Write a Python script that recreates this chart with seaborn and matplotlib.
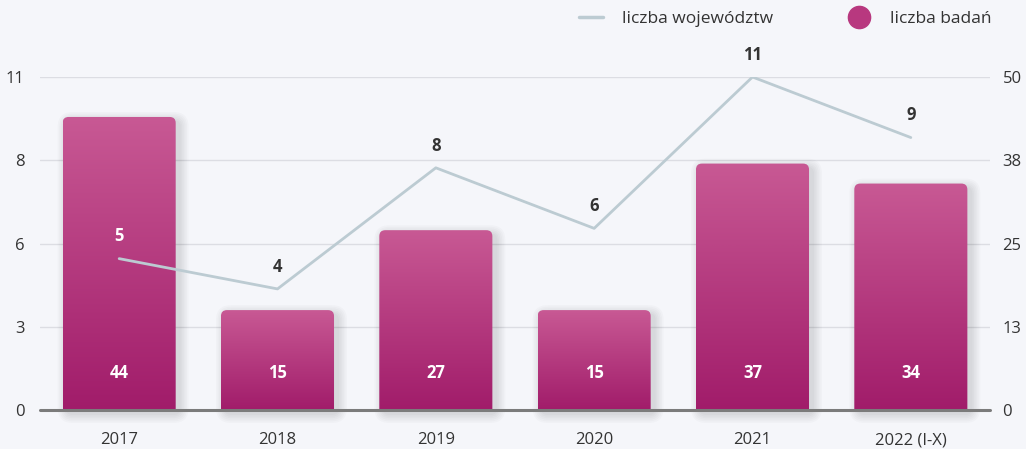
import numpy as np
import pandas as pd
import matplotlib
matplotlib.use("Agg")
import matplotlib.pyplot as plt
import seaborn as sns
from matplotlib.patches import FancyBboxPatch
from matplotlib.lines import Line2D
from matplotlib.colors import LinearSegmentedColormap

years = ["2017", "2018", "2019", "2020", "2021", "2022 (I-X)"]
badania = [44, 15, 27, 15, 37, 34]
wojewodztwa = [5, 4, 8, 6, 11, 9]
left_ticks = [0, 2.75, 5.5, 8.25, 11]
left_labels = ["0", "3", "6", "8", "11"]
right_ticks = [0, 12.5, 25, 37.5, 50]
right_labels = ["0", "13", "25", "38", "50"]

BG = "#f5f6fa"
TXT = "#333333"
LINE_C = "#bccbd2"
BAR_TOP = "#c85994"
BAR_BOT = "#a11c6a"

sns.set_theme(style="white")
plt.rcParams["font.family"] = ["Open Sans", "DejaVu Sans"]

W, H = 1026, 449
fig = plt.figure(figsize=(W / 100, H / 100), dpi=100, facecolor=BG)
ax_l, ax_b, ax_w, ax_h = 40, 39, 950, 333
ax = fig.add_axes([ax_l / W, ax_b / H, ax_w / W, ax_h / H])
ax2 = ax.twinx()
ax.set_zorder(2)
ax.patch.set_visible(False)
ax2.set_zorder(1)
ax2.patch.set_facecolor(BG)

df = pd.DataFrame({"year": years, "badania": badania, "woj": wojewodztwa})

# bars (right axis)
sns.barplot(data=df, x="year", y="badania", ax=ax2, width=0.714, color=BAR_BOT,
            saturation=1, zorder=3)
ax2.set_ylim(0, 50)
ax2.set_xlim(-0.5, 5.5)

px_x = ax_w / 6.0
px_y = ax_h / 50.0
aspect = px_x / px_y
r = 6 / px_x
cmap = LinearSegmentedColormap.from_list("g", [BAR_BOT, BAR_TOP])
grad = np.linspace(0, 1, 256).reshape(-1, 1)

for p, val in zip(list(ax2.patches), badania):
    x, w, h = p.get_x(), p.get_width(), p.get_height()
    p.set_visible(False)
    # soft shadow
    for k in range(6):
        pad = 1 + k * 1.6
        padx = pad / px_x
        pady = pad / px_y
        sh = FancyBboxPatch((x - padx + 4 / px_x, -pady - 4 / px_y),
                            w + 2 * padx, h + 2 * pady,
                            boxstyle=f"round,pad=0,rounding_size={r + padx}",
                            mutation_aspect=aspect, fc="black", ec="none",
                            alpha=0.018, zorder=2, clip_on=False,
                            transform=ax2.transData)
        ax2.add_patch(sh)
    clip = FancyBboxPatch((x, -5), w, h + 5,
                          boxstyle=f"round,pad=0,rounding_size={r}",
                          mutation_aspect=aspect, fc="none", ec="none",
                          transform=ax2.transData)
    ax2.add_patch(clip)
    im = ax2.imshow(grad, extent=[x, x + w, 0, h], origin="lower", cmap=cmap,
                    aspect="auto", zorder=3)
    im.set_clip_path(clip)
    ax2.text(x + w / 2, 5.6, str(val), ha="center", va="center", color="white",
             fontsize=12, fontweight="bold", zorder=5)

ax2.set_ylim(0, 50)
ax2.set_xlim(-0.5, 5.5)

# line (left axis)
xs = np.arange(len(years))
sns.lineplot(x=xs, y=wojewodztwa, ax=ax, color=LINE_C, linewidth=2.0, zorder=4)
ax.set_ylim(0, 11)
ax.set_xlim(-0.5, 5.5)
for xi, v, b in zip(xs, wojewodztwa, badania):
    inside = (v + 0.76) < b * 11 / 50
    ax.annotate(str(v), (xi, v), xytext=(0, 16), textcoords="offset points",
                ha="center", va="center", fontsize=12, fontweight="bold",
                color="white" if inside else TXT, zorder=6, annotation_clip=False)

# grid on bar axis
for t in right_ticks[1:]:
    ax2.axhline(t, color="#dcdde3", lw=1.0, zorder=0.5)
ax2.axhline(0, color="#7b7b7b", lw=2.2, zorder=4, clip_on=False)

# ticks
ax.set_yticks(left_ticks)
ax.set_yticklabels(left_labels)
ax2.set_yticks(right_ticks)
ax2.set_yticklabels(right_labels)
ax.set_xticks(xs)
ax.set_xticklabels(years)
ax.tick_params(axis="y", length=0, pad=11, labelsize=12, labelcolor=TXT)
ax2.tick_params(axis="y", length=0, pad=9, labelsize=12, labelcolor=TXT)
ax.tick_params(axis="x", length=0, pad=16, labelsize=12, labelcolor=TXT)
ax.set_xlabel("")
ax.set_ylabel("")
ax2.set_xlabel("")
ax2.set_ylabel("")
for a in (ax, ax2):
    for s in a.spines.values():
        s.set_visible(False)

handles = [
    Line2D([0], [0], color=LINE_C, lw=2.5),
    Line2D([0], [0], color="#b8387f", marker="o", markersize=16, lw=0),
]
fig.legend(handles, ["liczba województw", "liczba badań"], ncol=2,
           loc="upper right", bbox_to_anchor=(1007 / W, 1.01), frameon=False,
           fontsize=12.5, labelcolor=TXT, handlelength=1.4, columnspacing=4.2,
           handletextpad=1.1)

fig.savefig("out.png", dpi=100, facecolor=BG)
